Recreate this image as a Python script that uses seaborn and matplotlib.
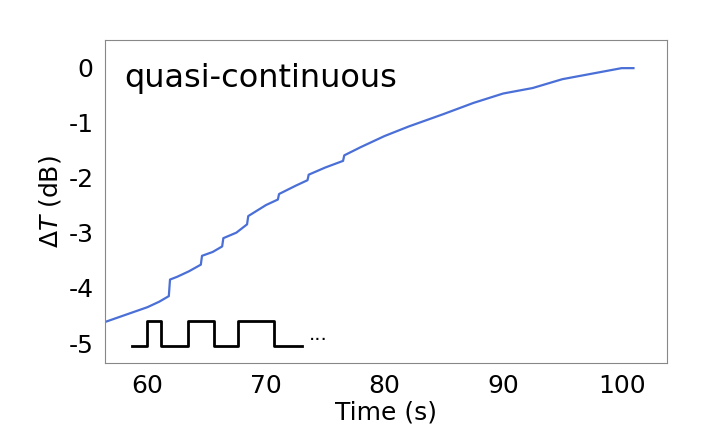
import matplotlib
matplotlib.use("Agg")
import matplotlib.pyplot as plt
import seaborn as sns
import pandas as pd

time_s = [56.4, 58.0, 60.0, 61.0, 61.8, 61.9, 62.5, 63.5, 64.5, 64.6, 65.5, 66.3, 66.4, 67.5, 68.4, 68.5,
          70.0, 71.0, 71.1, 72.5, 73.5, 73.6, 75.0, 76.5, 76.6, 78.0, 79.5, 80.0, 82.0, 85.0, 87.5, 90.0,
          92.5, 95.0, 97.5, 100.0, 101.0]
delta_t = [-4.62, -4.5, -4.35, -4.25, -4.15, -3.85, -3.8, -3.7, -3.58, -3.42, -3.35, -3.25, -3.1, -3.0, -2.85, -2.7,
           -2.5, -2.4, -2.3, -2.15, -2.05, -1.95, -1.82, -1.7, -1.6, -1.45, -1.3, -1.25, -1.08, -0.85, -0.65, -0.48,
           -0.38, -0.22, -0.12, -0.02, -0.02]
pulse_t = [58.7, 60.0, 60.0, 61.1, 61.1, 63.4, 63.4, 65.6, 65.6, 67.6, 67.6, 70.7, 70.7, 73.0]
pulse_y = [-5.05, -5.05, -4.6, -4.6, -5.05, -5.05, -4.6, -4.6, -5.05, -5.05, -4.6, -4.6, -5.05, -5.05]

fig, ax = plt.subplots(figsize=(7.13, 4.3), dpi=100)
fig.subplots_adjust(left=0.147, right=0.935, top=0.907, bottom=0.156)
sns.lineplot(data=pd.DataFrame({"t": time_s, "d": delta_t}), x="t", y="d", ax=ax,
             color="#4a6fd6", lw=1.6, sort=False)
ax.plot(pulse_t, pulse_y, color="black", lw=2)
ax.text(73.6, -4.95, "...", fontsize=14, color="black")
ax.text(0.035, 0.93, "quasi-continuous", transform=ax.transAxes, fontsize=23, va="top")
ax.set_xlim(56.4, 103.8)
ax.set_ylim(-5.36, 0.49)
ax.set_xticks([60, 70, 80, 90, 100])
ax.set_yticks([0, -1, -2, -3, -4, -5])
ax.set_yticklabels(["0", "-1", "-2", "-3", "-4", "-5"])
ax.tick_params(labelsize=18, length=0, pad=8)
ax.set_xlabel("Time (s)", fontsize=18, labelpad=2)
ax.set_ylabel(r"$\Delta T$ (dB)", fontsize=18)
for s in ax.spines.values():
    s.set_color("#888888")
fig.savefig("out.png")
